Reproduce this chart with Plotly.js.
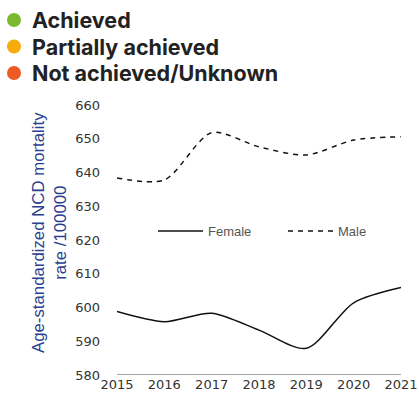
<!DOCTYPE html>
<html><head><meta charset="utf-8">
<script src="https://cdn.plot.ly/plotly-3.0.1.min.js"></script>
<style>html,body{margin:0;padding:0;background:#fff}#chart{width:419px;height:403px}</style>
</head><body><div id="chart"></div>
<script>
const years = ['2015','2016','2017','2018','2019','2020','2021'];
const female = [598.8, 595.8, 598.3, 593.3, 587.9, 601.4, 605.9];
const male = [638.4, 637.8, 651.8, 647.6, 645.2, 649.6, 650.6];
const statusLabels = ['Achieved', 'Partially achieved', 'Not achieved/Unknown'];
const statusColors = ['#7cb82f', '#f6ac0c', '#ee5a24'];
const yTicks = [580, 590, 600, 610, 620, 630, 640, 650, 660];

const xIdx = years.map((_, i) => i);
const traces = [
  {x: xIdx, y: female, name: 'Female', mode: 'lines', type: 'scatter', legend: 'legend',
   line: {color: '#111', width: 1.5, shape: 'spline', smoothing: 0.8}},
  {x: xIdx, y: male, name: 'Male', mode: 'lines', type: 'scatter', legend: 'legend2',
   line: {color: '#111', width: 1.5, dash: '5px,5px', shape: 'spline', smoothing: 0.8}}
];

const L = 117, R = 18, T = 105, Bm = 28;
const W = 419 - L - R, H = 403 - T - Bm, B = 403 - Bm;
const px = v => (v - L) / W;
const py = v => (B - v) / H;
const rowY = [20, 46.5, 73];

const annotations = statusLabels.map((t, i) => ({
  xref: 'paper', yref: 'paper', x: px(30), y: py(rowY[i]),
  xanchor: 'left', yanchor: 'middle', showarrow: false,
  text: '<b>' + t + '</b>',
  font: {family: 'Inter, Roboto, sans-serif', size: 21.5, color: '#222'}
}));
annotations.push({
  xref: 'paper', yref: 'paper', x: px(49), y: py(233),
  xanchor: 'center', yanchor: 'middle', showarrow: false, textangle: -90,
  text: 'Age-standardized NCD mortality<br>rate /100000',
  font: {family: 'Liberation Sans, Arial, sans-serif', size: 16.8, color: '#2a3f8f'}
});

const shapes = [{type: 'line', xref: 'x', yref: 'y', x0: 0, x1: 6, y0: 580, y1: 580, line: {color: '#888', width: 1.5}}];
statusColors.forEach((c, i) => {
  shapes.push({type: 'circle', xref: 'paper', yref: 'paper', xsizemode: 'pixel', ysizemode: 'pixel',
    xanchor: px(14), yanchor: py(rowY[i]), x0: -7, x1: 7, y0: -7, y1: 7,
    fillcolor: c, line: {width: 0}});
});

const legFont = {family: 'Liberation Sans, sans-serif', size: 13, color: '#555'};
const tickFont = {family: 'DejaVu Sans, sans-serif', size: 13, color: '#333'};
const layout = {
  width: 419, height: 403,
  margin: {l: L, r: R, t: T, b: Bm},
  paper_bgcolor: '#fff', plot_bgcolor: '#fff',
  showlegend: true,
  legend: {orientation: 'h', x: px(153), y: py(231), xanchor: 'left', yanchor: 'middle',
    bgcolor: 'rgba(0,0,0,0)', font: legFont, itemwidth: 45},
  legend2: {orientation: 'h', x: px(283), y: py(231), xanchor: 'left', yanchor: 'middle',
    bgcolor: 'rgba(0,0,0,0)', font: legFont, itemwidth: 45},
  xaxis: {range: [0, 6], tickmode: 'array', tickvals: xIdx, ticktext: years,
    showgrid: false, zeroline: false, showline: false, ticks: '', tickfont: tickFont,
    ticklabeloverflow: 'allow'},
  yaxis: {range: [580, 660], tickmode: 'array', tickvals: yTicks, showgrid: false, zeroline: false,
    showline: false, ticks: '', ticklabelstandoff: 16, tickfont: tickFont},
  shapes: shapes,
  annotations: annotations
};
Plotly.newPlot('chart', traces, layout, {displayModeBar: false, staticPlot: true});
</script></body></html>
